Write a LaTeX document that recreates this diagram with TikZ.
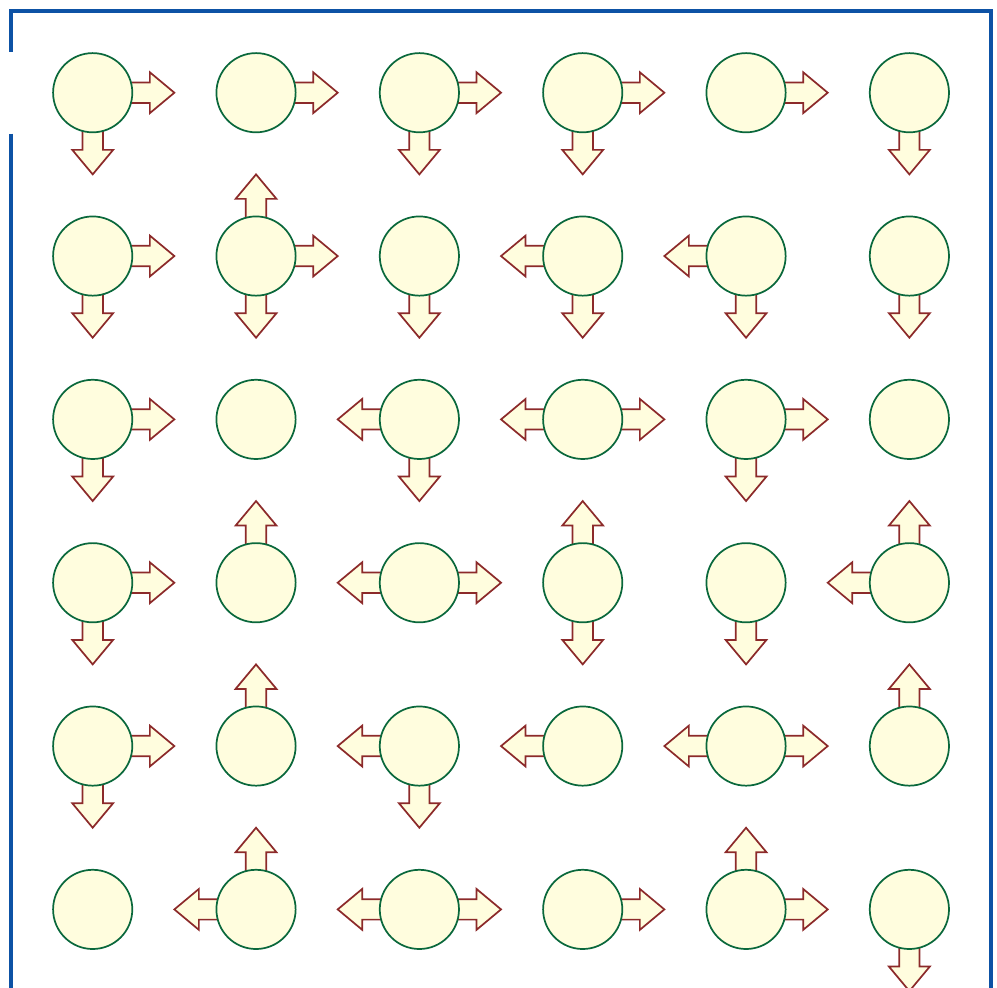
\documentclass[tikz,border=0pt]{standalone}
\usetikzlibrary{positioning}
\definecolor{wallblue}{RGB}{13,82,165}
\definecolor{cellfill}{RGB}{255,253,222}
\definecolor{celledge}{RGB}{10,104,60}
\definecolor{arrowedge}{RGB}{140,42,42}
\tikzset{
    % --- Maze border ---
    wall/.style = {
        draw=wallblue, line width=1.5pt
    },
    % --- State circle in a cell ---
    cell/.style = {
        circle, draw=celledge, fill=cellfill,
        line width=0.6pt, minimum size=0.97cm, inner sep=0pt
    },
    % --- Block arrow for an allowed move ---
    move arrow/.style = {
        draw=arrowedge, fill=cellfill,
        line width=0.6pt, line join=miter
    }
}
% block arrow from a cell centre, #1 = coordinate, #2 = angle
\newcommand{\movearrow}[2]{%
    \draw[move arrow, shift={(#1)}, rotate=#2]
        (0,-0.125) -- (0.7,-0.125) -- (0.7,-0.25) -- (1,0)
        -- (0.7,0.25) -- (0.7,0.125) -- (0,0.125) -- cycle;
}
\begin{document}
\begin{tikzpicture}

\useasboundingbox (-0.135,0.135) rectangle (12.073,-11.951);

% ---------------------------------------------------------
% Cell centres
% ---------------------------------------------------------
\foreach \r in {0,...,5}
    \foreach \c in {0,...,5}
        \coordinate (s\r\c) at (2*\c+1, -2*\r-1);

% ---------------------------------------------------------
% Moves (row/col/angle)
% ---------------------------------------------------------
\foreach \r/\c/\a in {
    0/0/0, 0/0/270, 0/1/0, 0/2/0, 0/2/270, 0/3/0, 0/3/270, 0/4/0, 0/5/270,
    1/0/0, 1/0/270, 1/1/90, 1/1/0, 1/1/270, 1/2/270, 1/3/180, 1/3/270,
    1/4/180, 1/4/270, 1/5/270,
    2/0/0, 2/0/270, 2/2/180, 2/2/270, 2/3/180, 2/3/0, 2/4/0, 2/4/270,
    3/0/0, 3/0/270, 3/1/90, 3/2/180, 3/2/0, 3/3/90, 3/3/270, 3/4/270,
    3/5/90, 3/5/180,
    4/0/0, 4/0/270, 4/1/90, 4/2/180, 4/2/270, 4/3/180, 4/4/180, 4/4/0, 4/5/90,
    5/1/180, 5/1/90, 5/2/180, 5/2/0, 5/3/0, 5/4/90, 5/4/0, 5/5/270}
{
    \movearrow{s\r\c}{\a}
}

% ---------------------------------------------------------
% State circles
% ---------------------------------------------------------
\foreach \r in {0,...,5}
    \foreach \c in {0,...,5}
        \node[cell] (n\r\c) at (s\r\c) {};

% ---------------------------------------------------------
% Border (entrance on the left of the first cell)
% ---------------------------------------------------------
\coordinate (wTL) at (0,0);
\coordinate (wTR) at (12,0);
\coordinate (wBR) at (12,-12);
\coordinate (wBL) at (0,-12);
\draw[wall] (0,-0.5) -- (wTL) -- (wTR) -- (wBR);
\draw[wall] (0,-1.5) -- (wBL);

\end{tikzpicture}
\end{document}
